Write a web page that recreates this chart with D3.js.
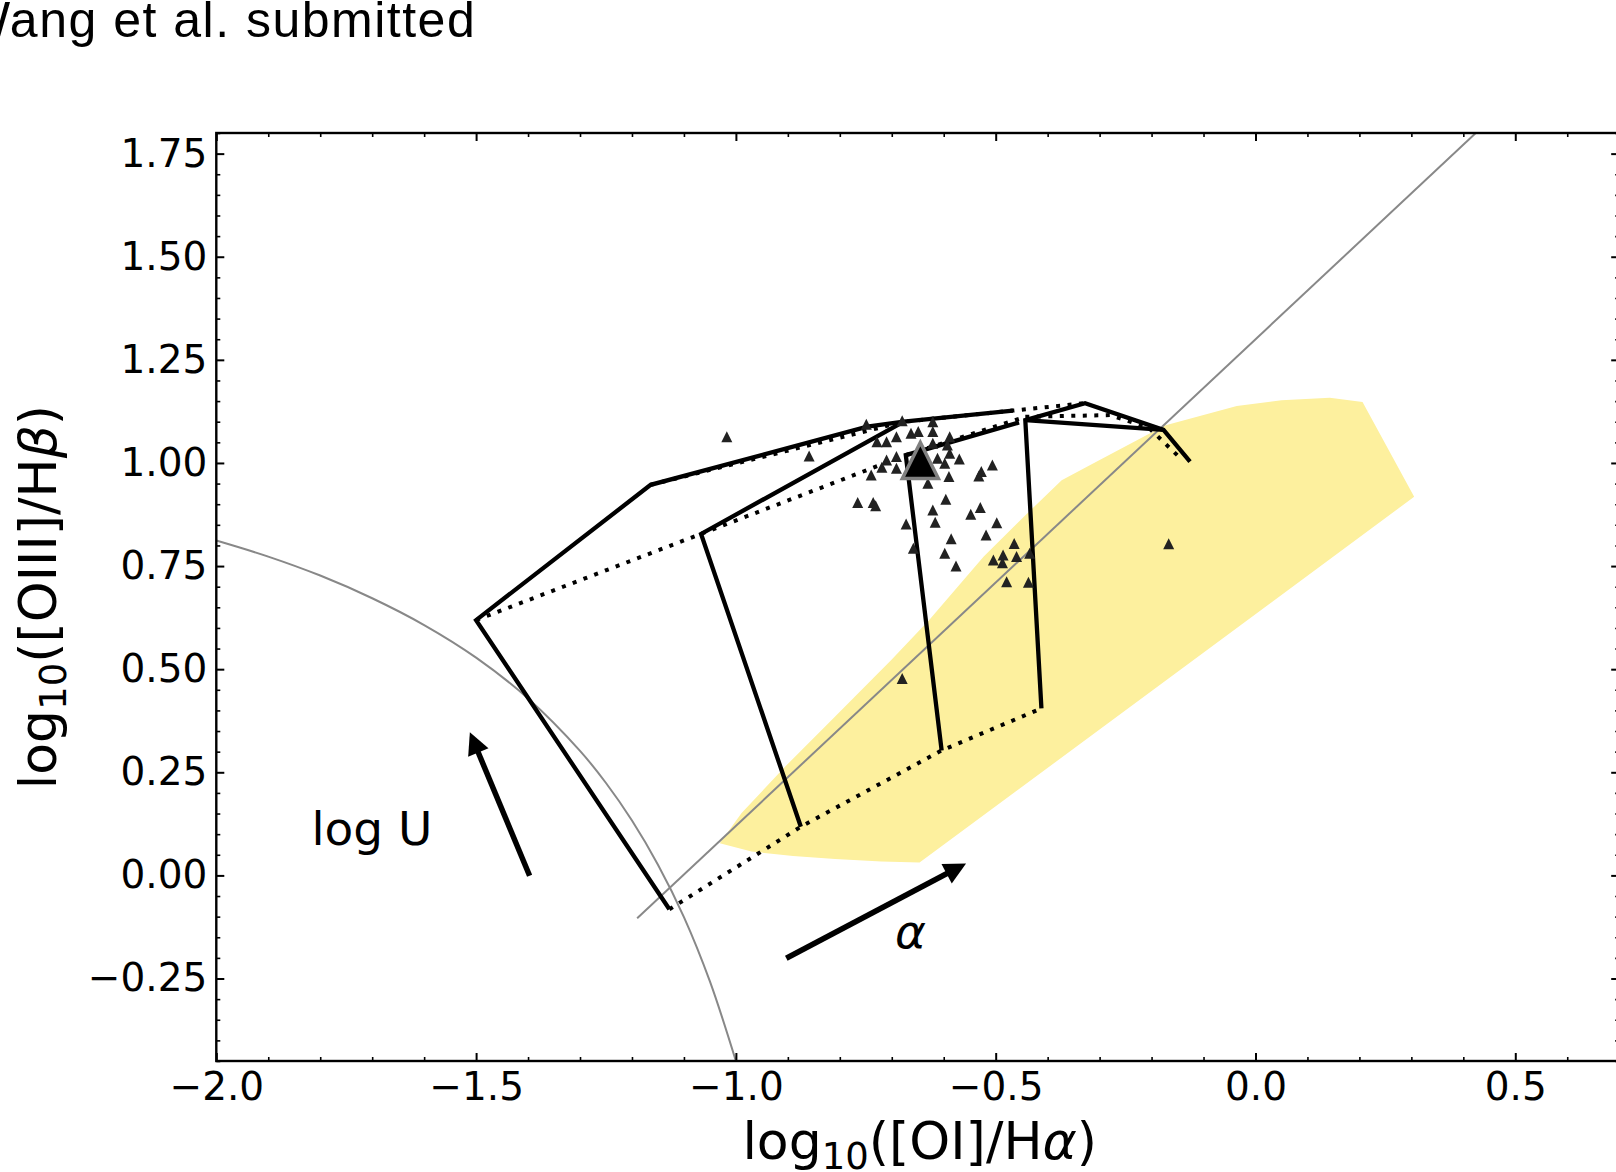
<!DOCTYPE html>
<html>
<head>
<meta charset="utf-8">
<script src="https://cdn.jsdelivr.net/npm/d3@7"></script>
<style>
  html, body { margin: 0; padding: 0; background: #fff; overflow: hidden; }
  svg { display: block; }
  .tick text { font-family: "DejaVu Sans", sans-serif; font-size: 39px; fill: #000; }
  .axis-label { font-family: "DejaVu Sans", sans-serif; font-size: 52px; fill: #000; }
</style>
</head>
<body>
<svg id="chart" width="1616" height="1172"></svg>
<script>
// tick labels
var xTicks = [-2.0, -1.5, -1.0, -0.5, 0.0, 0.5];
var yTicks = [-0.25, 0.0, 0.25, 0.5, 0.75, 1.0, 1.25, 1.5, 1.75];

// Kewley et al. curve and Seyfert/LINER line
var curveX = [-2.0, -1.9, -1.8, -1.7, -1.6, -1.5, -1.4, -1.3, -1.25, -1.2, -1.15, -1.1, -1.05, -1.0];
var curveY = [0.812, 0.773, 0.727, 0.672, 0.607, 0.528, 0.429, 0.302, 0.224, 0.133, 0.026, -0.101, -0.257, -0.450];
var splitX = [-1.19, 0.424];
var splitY = [-0.104, 1.80];

// yellow region outline
var regionX = [-1.031, -0.970, -0.890, -0.809, -0.720, -0.6465, 0.3054, 0.206, 0.143, 0.05, -0.036, -0.1746, -0.3135, -0.373, -0.439, -0.523, -0.628, -0.701, -0.809, -0.905, -0.989];
var regionY = [0.078, 0.058, 0.047, 0.040, 0.034, 0.031, 0.918, 1.148, 1.158, 1.152, 1.138, 1.0906, 0.998, 0.958, 0.878, 0.773, 0.619, 0.522, 0.385, 0.264, 0.151];

// model grid: solid = fixed alpha, dotted = fixed log U
var solidA = [[-1.128, -0.082], [-1.500, 0.619], [-1.164, 0.947], [-0.747, 1.088], [-0.677, 1.100], [-0.467, 1.127]];
var solidB = [[-0.875, 0.118], [-1.067, 0.828], [-0.677, 1.100]];
var solidC = [[-0.604, 0.303], [-0.673, 1.019], [-0.455, 1.098]];
var solidD = [[-0.412, 0.405], [-0.443, 1.104], [-0.328, 1.145], [-0.177, 1.080], [-0.126, 1.003]];
var solidE = [[-0.443, 1.104], [-0.177, 1.080]];
var dotted0 = [[-1.128, -0.082], [-0.875, 0.118], [-0.604, 0.303], [-0.412, 0.405]];
var dotted1 = [[-1.500, 0.619], [-1.067, 0.828], [-0.673, 1.019], [-0.443, 1.112]];
var dotted2 = [[-1.164, 0.947], [-0.677, 1.100], [-0.467, 1.127], [-0.328, 1.145]];
var dotted3 = [[-0.443, 1.112], [-0.280, 1.116], [-0.205, 1.085], [-0.145, 1.012]];

// observed spaxels
var sampleX = [-1.0175, -0.859, -0.749, -0.680, -0.621, -0.7285, -0.710, -0.691, -0.663, -0.649, -0.621, -0.5885, -0.621, -0.593,
  -0.710, -0.691, -0.719, -0.691, -0.7396, -0.612, -0.5885, -0.570, -0.598, -0.5064, -0.5277, -0.5325, -0.590, -0.6305,
  -0.7656, -0.7358, -0.731, -0.596, -0.621, -0.5296, -0.548, -0.6724, -0.6164, -0.498, -0.5185, -0.5857, -0.6584, -0.598,
  -0.4644, -0.5044, -0.4858, -0.487, -0.4598, -0.4346, -0.5764, -0.479, -0.437, -0.167, -0.680];
var sampleY = [1.0638, 1.017, 1.094, 1.1026, 1.100, 1.0517, 1.0517, 1.0638, 1.072, 1.076, 1.076, 1.0638, 1.0477, 1.0436,
  1.007, 1.0154, 0.9895, 0.987, 0.971, 1.0113, 1.0234, 1.0097, 0.9992, 0.995, 0.979, 0.9685, 0.967, 0.951,
  0.904, 0.904, 0.896, 0.912, 0.886, 0.8917, 0.8756, 0.852, 0.856, 0.855, 0.8255, 0.816, 0.793, 0.781,
  0.805, 0.765, 0.777, 0.758, 0.773, 0.781, 0.750, 0.712, 0.711, 0.804, 0.4775];
var meanX = [-0.645];
var meanY = [1.006];

// arrows and their labels
var arrowTails = [[-1.397, -0.001], [-0.903, -0.201]];
var arrowHeads = [[-1.512, 0.347], [-0.557, 0.029]];
var noteText = ['log U', 'α'];
var noteX = [-1.817, -0.694];
var noteY = [0.074, -0.176];

(function() {
  'use strict';

  var svg = d3.select('#chart');
  var left = 216.3, right = 1619.2, top = 133, bottom = 1061;

  var x = d3.scaleLinear().domain([-2.0, 0.7]).range([left, right]);
  var y = d3.scaleLinear().domain([-0.45, 1.8]).range([bottom, top]);

  svg.append('defs').append('clipPath').attr('id', 'plot-clip')
    .append('rect')
    .attr('x', left).attr('y', top)
    .attr('width', right - left).attr('height', bottom - top);

  var plot = svg.append('g').attr('clip-path', 'url(#plot-clip)');

  var line = d3.line().x(function(d) { return x(d[0]); }).y(function(d) { return y(d[1]); });
  var zip = function(xs, ys) { return xs.map(function(v, i) { return [v, ys[i]]; }); };

  // yellow region
  plot.append('path')
    .attr('d', line(zip(regionX, regionY)) + 'Z')
    .attr('fill', '#fdf09e')
    .attr('stroke', 'none');

  // grey demarcation lines
  plot.append('path')
    .attr('d', line.curve(d3.curveCatmullRom)(zip(curveX, curveY)))
    .attr('fill', 'none').attr('stroke', '#888').attr('stroke-width', 2);
  line.curve(d3.curveLinear);
  plot.append('path')
    .attr('d', line(zip(splitX, splitY)))
    .attr('fill', 'none').attr('stroke', '#888').attr('stroke-width', 2);

  [solidA, solidB, solidC, solidD, solidE].forEach(function(pts) {
    plot.append('path')
      .attr('d', line(pts))
      .attr('fill', 'none').attr('stroke', '#000')
      .attr('stroke-width', 4.3).attr('stroke-linejoin', 'miter');
  });
  [dotted0, dotted1, dotted2, dotted3].forEach(function(pts) {
    plot.append('path')
      .attr('d', line(pts))
      .attr('fill', 'none').attr('stroke', '#000')
      .attr('stroke-width', 4).attr('stroke-dasharray', '4 7.5');
  });

  // arrows
  for (var i = 0; i < arrowTails.length; i++) {
    var x0 = x(arrowTails[i][0]), y0 = y(arrowTails[i][1]);
    var x1 = x(arrowHeads[i][0]), y1 = y(arrowHeads[i][1]);
    var len = Math.hypot(x1 - x0, y1 - y0);
    var ux = (x1 - x0) / len, uy = (y1 - y0) / len;
    var hl = 22, hw = 11;
    var bx = x1 - ux * hl, by = y1 - uy * hl;
    plot.append('line')
      .attr('x1', x0).attr('y1', y0).attr('x2', bx + ux * 2).attr('y2', by + uy * 2)
      .attr('stroke', '#000').attr('stroke-width', 5.5);
    plot.append('path')
      .attr('d', 'M' + x1 + ',' + y1 +
        'L' + (bx - uy * hw) + ',' + (by + ux * hw) +
        'L' + (bx + uy * hw) + ',' + (by - ux * hw) + 'Z')
      .attr('fill', '#000');
  }

  plot.selectAll('text.note')
    .data(noteText)
    .enter().append('text')
    .attr('class', 'note')
    .attr('x', function(d, i) { return x(noteX[i]); })
    .attr('y', function(d, i) { return y(noteY[i]); })
    .attr('font-family', '"DejaVu Sans", sans-serif')
    .attr('font-size', 47)
    .attr('font-style', function(d, i) { return i === 1 ? 'italic' : 'normal'; })
    .text(function(d) { return d; });

  // spaxel triangles
  var tri = function(r) { return 'M0,' + (-r) + 'L' + r + ',' + r + 'L' + (-r) + ',' + r + 'Z'; };
  plot.selectAll('path.spaxel')
    .data(zip(sampleX, sampleY))
    .enter().append('path')
    .attr('class', 'spaxel')
    .attr('d', tri(5.5))
    .attr('transform', function(d) { return 'translate(' + x(d[0]) + ',' + y(d[1]) + ')'; })
    .attr('fill', '#222');

  plot.selectAll('path.mean')
    .data(zip(meanX, meanY))
    .enter().append('path')
    .attr('class', 'mean')
    .attr('d', tri(18))
    .attr('transform', function(d) { return 'translate(' + x(d[0]) + ',' + y(d[1]) + ')'; })
    .attr('fill', '#000').attr('stroke', '#808080').attr('stroke-width', 3.5);

  // axes, ticks pointing in on all four sides
  var xMinor = d3.range(-20, 8).filter(function(i) { return i % 5 !== 0; }).map(function(i) { return i / 10; });
  var yMinor = d3.range(-9, 37).filter(function(i) { return i % 5 !== 0; }).map(function(i) { return i / 20; });
  var fx = d3.format('.1f'), fy = d3.format('.2f');

  var addAxis = function(axis, tx, ty, values, size, fmt, pad, width) {
    var g = svg.append('g')
      .attr('transform', 'translate(' + tx + ',' + ty + ')')
      .call(axis.tickValues(values).tickSizeInner(-size).tickSizeOuter(0)
        .tickPadding(pad).tickFormat(fmt || ''));
    g.select('.domain').remove();
    g.selectAll('.tick line').attr('stroke', '#000').attr('stroke-width', width);
    return g;
  };

  addAxis(d3.axisBottom(x), 0, bottom, xTicks, 8, fx, 11, 2);
  addAxis(d3.axisBottom(x), 0, bottom, xMinor, 4, null, 0, 1.6);
  addAxis(d3.axisTop(x), 0, top, xTicks, 8, null, 0, 2);
  addAxis(d3.axisTop(x), 0, top, xMinor, 4, null, 0, 1.6);
  addAxis(d3.axisLeft(y), left, 0, yTicks, 8, fy, 9, 2);
  addAxis(d3.axisLeft(y), left, 0, yMinor, 4, null, 0, 1.6);
  addAxis(d3.axisRight(y), right, 0, yTicks, 8, null, 0, 2);
  addAxis(d3.axisRight(y), right, 0, yMinor, 4, null, 0, 1.6);

  svg.append('rect')
    .attr('x', left).attr('y', top)
    .attr('width', right - left).attr('height', bottom - top)
    .attr('fill', 'none').attr('stroke', '#000').attr('stroke-width', 2.4);

  // axis labels
  var xl = svg.append('text').attr('class', 'axis-label')
    .attr('x', (left + right) / 2 + 2).attr('y', 1159)
    .attr('text-anchor', 'middle');
  xl.append('tspan').text('log');
  xl.append('tspan').attr('font-size', 37).attr('dy', 10).text('10');
  xl.append('tspan').attr('dy', -10).text('([OI]/H');
  xl.append('tspan').attr('font-style', 'italic').text('α');
  xl.append('tspan').text(')');

  var yl = svg.append('text').attr('class', 'axis-label')
    .attr('transform', 'translate(56,' + (top + bottom) / 2 + ') rotate(-90)')
    .attr('text-anchor', 'middle');
  yl.append('tspan').text('log');
  yl.append('tspan').attr('font-size', 37).attr('dy', 10).text('10');
  yl.append('tspan').attr('dy', -10).text('([OIII]/H');
  yl.append('tspan').attr('font-style', 'italic').text('β');
  yl.append('tspan').text(')');

  svg.append('text')
    .attr('x', -37).attr('y', 37)
    .attr('font-family', '"Liberation Sans", Arial, sans-serif')
    .attr('font-size', 50)
    .attr('letter-spacing', 1.5)
    .attr('fill', '#000')
    .text('Wang et al. submitted');
})();
</script>
</body>
</html>
